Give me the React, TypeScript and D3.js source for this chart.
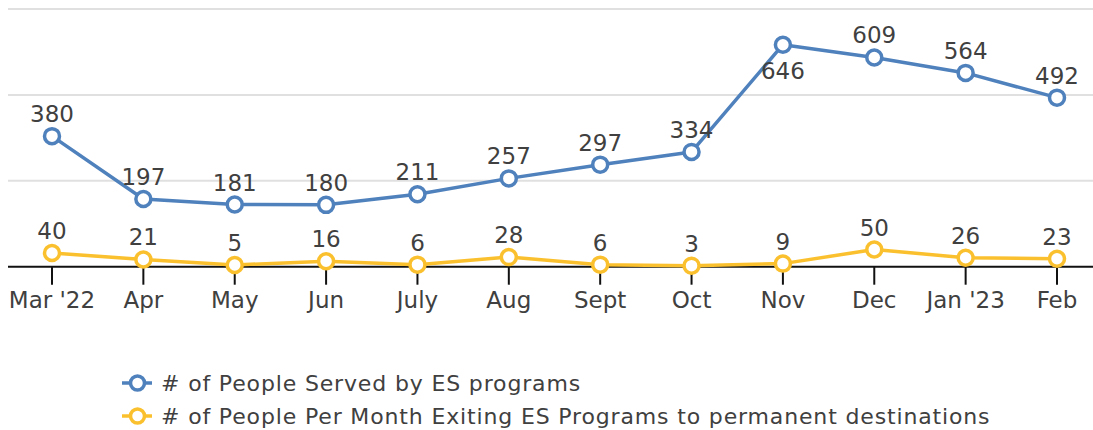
import React from "react";
import * as d3 from "d3";

const months = ["Mar '22", "Apr", "May", "Jun", "July", "Aug", "Sept", "Oct", "Nov", "Dec", "Jan '23", "Feb"];
const servedValues = [380, 197, 181, 180, 211, 257, 297, 334, 646, 609, 564, 492];
const exitingValues = [40, 21, 5, 16, 6, 28, 6, 3, 9, 50, 26, 23];
const yTicks = [0, 250, 500, 750];
const seriesNames = ["# of People Served by ES programs", "# of People Per Month Exiting ES Programs to permanent destinations"];

const BLUE = "#4f81bd";
const YELLOW = "#fbc02d";
const TEXT = "#404040";
const FONT = "'DejaVu Sans', sans-serif";

export default function App() {
  const W = 1093, H = 430;
  const x = d3.scalePoint<string>().domain(months).range([52, 1057]);
  const y = d3.scaleLinear().domain([0, 750]).range([266.7, 9]);
  const line = d3.line<number>().x((_, i) => x(months[i])!).y((d) => y(d));

  const series = [
    { values: servedValues, color: BLUE, name: seriesNames[0] },
    { values: exitingValues, color: YELLOW, name: seriesNames[1] },
  ];

  return (
    <svg width={W} height={H} style={{ position: "absolute", left: 0, top: 0, background: "#fff" }} fontFamily={FONT}>
      {yTicks.filter((t) => t > 0).map((t) => (
        <line key={t} x1={8} x2={W} y1={y(t)} y2={y(t)} stroke="#e0e0e0" strokeWidth={2} />
      ))}
      <line x1={8} x2={W} y1={y(0)} y2={y(0)} stroke="#111" strokeWidth={2} />
      {months.map((m) => (
        <g key={m}>
          <line x1={x(m)} x2={x(m)} y1={y(0)} y2={y(0) + 18} stroke="#111" strokeWidth={2} />
          <text x={x(m)} y={308} textAnchor="middle" fontSize={23} fill={TEXT}>{m}</text>
        </g>
      ))}
      {series.map((s) => (
        <g key={s.name}>
          <path d={line(s.values) || ""} fill="none" stroke={s.color} strokeWidth={3.5} strokeLinejoin="round" />
          {s.values.map((v, i) => (
            <circle key={i} cx={x(months[i])} cy={y(v)} r={7.5} fill="#fff" stroke={s.color} strokeWidth={3.5} />
          ))}
          {s.values.map((v, i) => {
            const below = s.values === servedValues && months[i] === "Nov";
            return (
              <text key={"l" + i} x={x(months[i])} y={below ? y(v) + 34 : y(v) - 14}
                textAnchor="middle" fontSize={23} fill={TEXT}>{v}</text>
            );
          })}
        </g>
      ))}
      {series.map((s, i) => {
        const ly = 383 + i * 33;
        return (
          <g key={"leg" + i}>
            <line x1={122} x2={152} y1={ly} y2={ly} stroke={s.color} strokeWidth={3.5} />
            <circle cx={137.5} cy={ly} r={7} fill="#fff" stroke={s.color} strokeWidth={3.5} />
            <text x={161} y={ly + 8} fontSize={22} letterSpacing={0.85} fill={TEXT}>{s.name}</text>
          </g>
        );
      })}
    </svg>
  );
}
